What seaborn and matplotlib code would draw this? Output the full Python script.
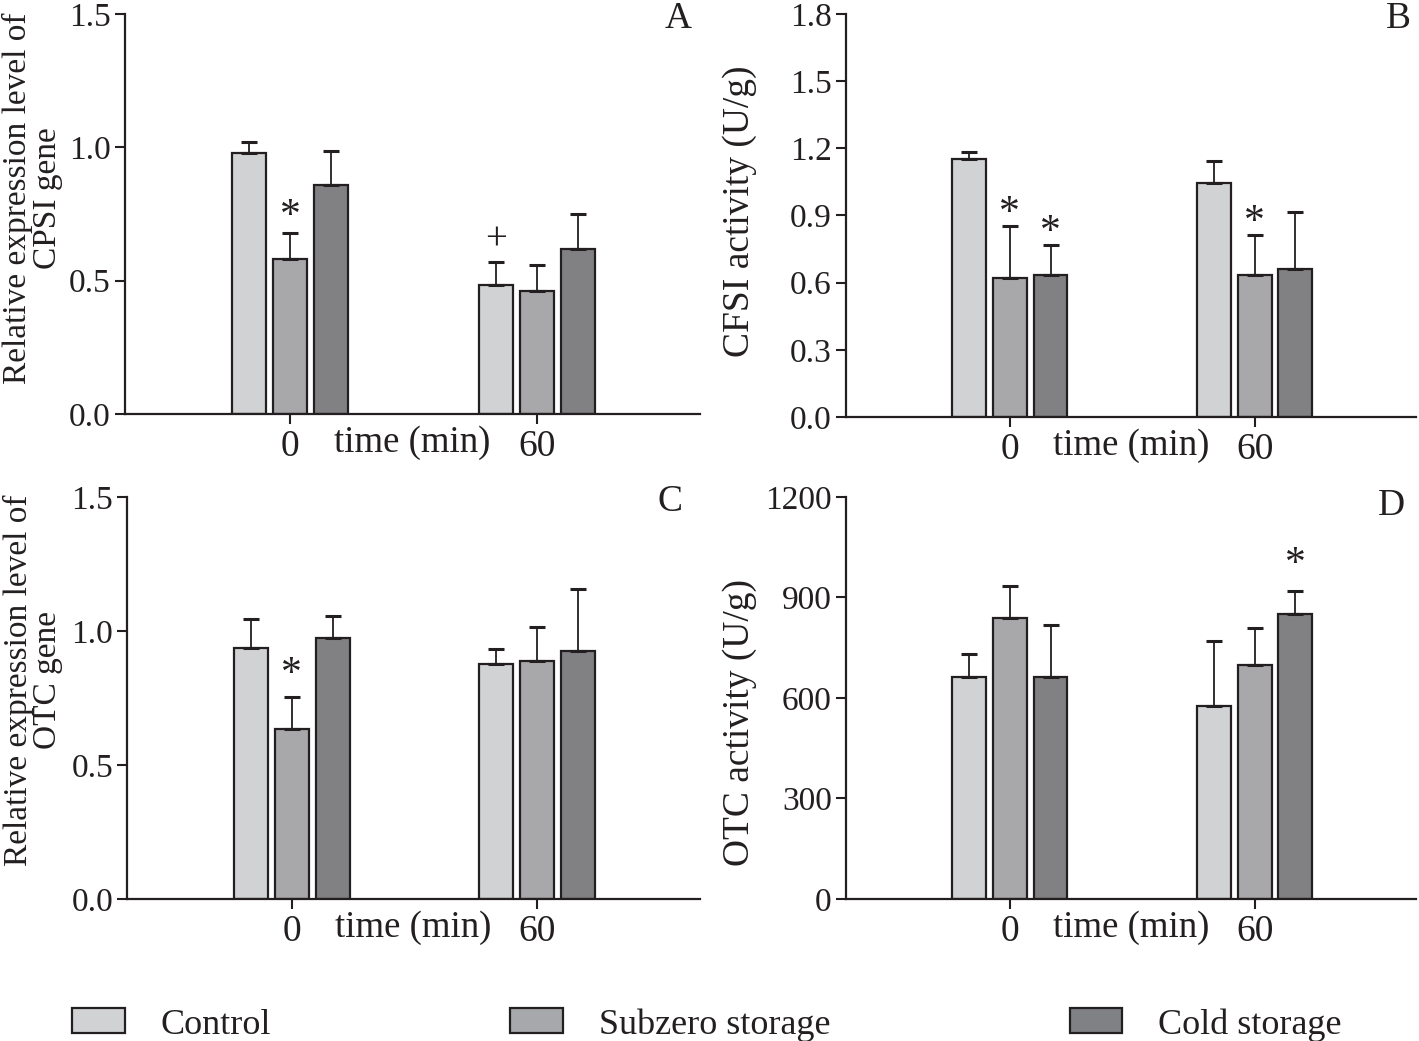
import numpy as np
import pandas as pd
import matplotlib
matplotlib.use("Agg")
import matplotlib.pyplot as plt
import seaborn as sns
from matplotlib.patches import Patch

times = ["0", "60"]
groups = ["Control", "Subzero storage", "Cold storage"]
colors = ["#d1d2d4", "#a7a8ab", "#808184"]

# means and top of the error bar, ordered [time][group]
cpsi_mean = [[0.98, 0.58, 0.86], [0.485, 0.46, 0.62]]
cpsi_top = [[1.02, 0.68, 0.985], [0.57, 0.56, 0.75]]
cfsi_mean = [[1.153, 0.623, 0.633], [1.046, 0.633, 0.662]]
cfsi_top = [[1.183, 0.852, 0.770], [1.143, 0.812, 0.914]]
otcg_mean = [[0.937, 0.635, 0.975], [0.876, 0.888, 0.926]]
otcg_top = [[1.046, 0.753, 1.057], [0.934, 1.016, 1.157]]
otca_mean = [[662, 838, 662], [576, 697, 851]]
otca_top = [[732, 933, 817], [769, 809, 919]]

# significance marks: (time index, group index, symbol)
cpsi_marks = [(0, 1, "*"), (1, 0, "+")]
cfsi_marks = [(0, 1, "*"), (0, 2, "*"), (1, 1, "*")]
otcg_marks = [(0, 1, "*")]
otca_marks = [(1, 2, "*")]

sns.set_style("ticks")
plt.rcParams["font.family"] = ["Liberation Serif", "DejaVu Serif"]
ink = "#231f20"


def panel(ax, mean, top, marks, ymax, step, fmt, ylabel, ylsize, lab_x, lab_y,
          letter, let_x, let_y, mark_gap):
    df = pd.DataFrame([
        {"time": t, "group": g, "value": mean[i][j]}
        for i, t in enumerate(times) for j, g in enumerate(groups)
    ])
    sns.barplot(data=df, x="time", y="value", hue="group", order=times,
                hue_order=groups, palette=colors, width=0.5, gap=0.17,
                edgecolor=ink, linewidth=1.6, errorbar=None, legend=False, ax=ax)
    centers = {}
    bar_sets = list(ax.containers)
    for j, cont in enumerate(bar_sets):
        xs = [p.get_x() + p.get_width() / 2 for p in cont.patches]
        ys = np.array([mean[i][j] for i in range(len(times))])
        up = np.array([top[i][j] for i in range(len(times))]) - ys
        ax.errorbar(xs, ys, yerr=[np.zeros_like(ys), up], fmt="none",
                    ecolor=ink, elinewidth=1.3, capsize=6, capthick=2.2, zorder=1)
        for i in range(len(times)):
            centers[(i, j)] = xs[i]
    for i, j, s in marks:
        gap = mark_gap if s == "*" else mark_gap + 0.015
        ax.text(centers[(i, j)], top[i][j] + ymax * gap, s, ha="center",
                va="center", fontsize=30 if s == "*" else 28, color=ink)
    ax.set_xlim(-0.67, 1.66)
    ax.set_ylim(0, ymax)
    ticks = np.arange(0, ymax + step / 2, step)
    ax.set_yticks(ticks)
    ax.set_yticklabels([fmt.format(v) for v in ticks])
    ax.tick_params(axis="both", colors=ink, length=7, width=1.5)
    ax.tick_params(axis="y", labelsize=24, pad=3)
    ax.tick_params(axis="x", labelsize=27, pad=4.5)
    ax.set_xlabel("time (min)", fontsize=26.5, color=ink)
    ax.xaxis.set_label_coords(0.5, -11.5 / 400)
    ax.set_ylabel(ylabel, fontsize=ylsize, color=ink, linespacing=0.95)
    ax.yaxis.set_label_coords(lab_x, lab_y)
    for side in ["left", "bottom"]:
        ax.spines[side].set_linewidth(1.6)
        ax.spines[side].set_color(ink)
    sns.despine(ax=ax)
    ax.text(let_x, let_y, letter, transform=ax.transAxes, ha="right", va="top",
            fontsize=27, color=ink)


fig = plt.figure(figsize=(14.19, 10.41), dpi=100)
ax_a = fig.add_axes([0.088, 0.6023, 0.405, 0.3843])
ax_b = fig.add_axes([0.596, 0.5994, 0.402, 0.3872])
ax_c = fig.add_axes([0.0895, 0.1364, 0.4035, 0.3862])
ax_d = fig.add_axes([0.596, 0.1364, 0.402, 0.3862])

panel(ax_a, cpsi_mean, cpsi_top, cpsi_marks, 1.5, 0.5, "{:.1f}",
      "Relative expression level of\nCPSI gene", 24, -0.108, 0.54,
      "A", 0.986, 1.03, 0.04)
panel(ax_b, cfsi_mean, cfsi_top, cfsi_marks, 1.8, 0.3, "{:.1f}",
      "CFSI activity (U/g)", 27, -0.155, 0.51,
      "B", 0.99, 1.03, 0.03)
panel(ax_c, otcg_mean, otcg_top, otcg_marks, 1.5, 0.5, "{:.1f}",
      "Relative expression level of\nOTC gene", 24, -0.111, 0.545,
      "C", 0.97, 1.03, 0.055)
panel(ax_d, otca_mean, otca_top, otca_marks, 1200, 300, "{:.0f}",
      "OTC activity (U/g)", 27, -0.155, 0.44,
      "D", 0.98, 1.02, 0.065)

handles = [Patch(facecolor=c, edgecolor=ink, linewidth=1.6) for c in colors]
fig.legend(handles, groups, loc="center", ncol=3, mode="expand",
           bbox_to_anchor=(0.0507, 0.002, 0.895, 0.027), frameon=False,
           fontsize=26, handlelength=1.46, handleheight=0.69, handletextpad=1.0,
           borderaxespad=0, borderpad=0, labelcolor=ink)

fig.savefig("out.png", dpi=100)
